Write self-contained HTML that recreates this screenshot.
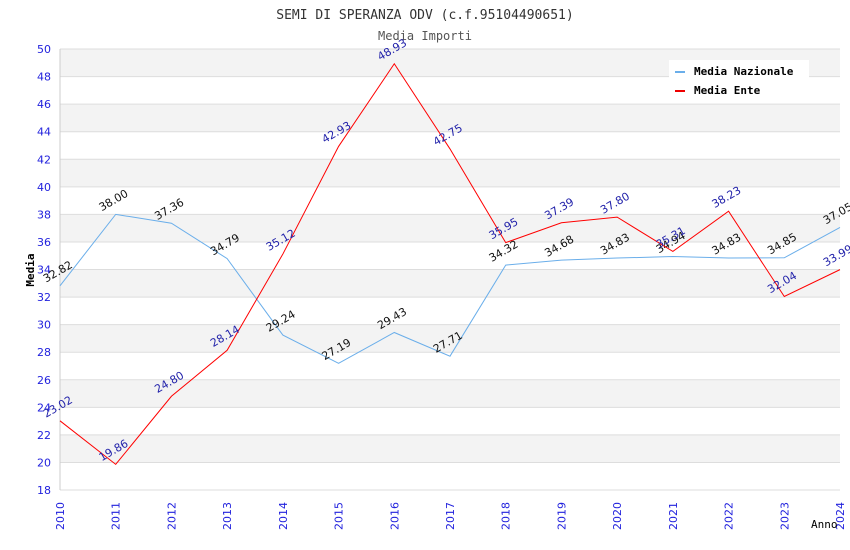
<!DOCTYPE html>
<html><head><meta charset="utf-8"><style>
body{margin:0;background:#fff;}
svg{display:block;font-family:"DejaVu Sans","Liberation Sans",sans-serif;}
</style></head><body>
<svg id="chart" width="850" height="550" xmlns="http://www.w3.org/2000/svg">
<text x="425" y="19" text-anchor="middle" font-family="DejaVu Sans Mono, Liberation Mono, monospace" font-size="13" fill="#333">SEMI DI SPERANZA ODV (c.f.95104490651)</text>
<text x="425" y="40" text-anchor="middle" font-family="DejaVu Sans Mono, Liberation Mono, monospace" font-size="12" fill="#555">Media Importi</text>
<g id="grid"></g><g id="axes"></g><g id="series"></g>
<g>
<rect x="669" y="60" width="140" height="42" fill="#fff"/>
<rect x="675" y="71" width="10" height="2" fill="#6aaeea"/>
<text x="694" y="75" font-family="DejaVu Sans Mono, Liberation Mono, monospace" font-size="11" font-weight="bold">Media Nazionale</text>
<rect x="675" y="90" width="10" height="2" fill="#e00"/>
<text x="694" y="94" font-family="DejaVu Sans Mono, Liberation Mono, monospace" font-size="11" font-weight="bold">Media Ente</text>
</g>
<text transform="translate(34,270) rotate(-90)" text-anchor="middle" font-family="DejaVu Sans Mono, Liberation Mono, monospace" font-size="11" font-weight="bold">Media</text>
<text x="811" y="528" font-family="DejaVu Sans Mono, Liberation Mono, monospace" font-size="11">Anno</text>
</svg>
<script>
const years=[2010,2011,2012,2013,2014,2015,2016,2017,2018,2019,2020,2021,2022,2023,2024];
const nazionale=[32.82,38.00,37.36,34.79,29.24,27.19,29.43,27.71,34.32,34.68,34.83,34.94,34.83,34.85,37.05];
const ente=[23.02,19.86,24.80,28.14,35.12,42.93,48.93,42.75,35.95,37.39,37.80,35.31,38.23,32.04,33.99];
const yTicks=[18,20,22,24,26,28,30,32,34,36,38,40,42,44,46,48,50];
const NS='http://www.w3.org/2000/svg';
const x0=60,x1=840,yTop=49,yBot=490,ymin=18,ymax=50;
const xs=i=>x0+(x1-x0)*i/(years.length-1);
const ys=v=>yBot-(v-ymin)/(ymax-ymin)*(yBot-yTop);
function mk(p,t,a){const e=document.createElementNS(NS,t);for(const k in a)e.setAttribute(k,a[k]);p.appendChild(e);return e;}
const grid=document.getElementById('grid'),axes=document.getElementById('axes'),ser=document.getElementById('series');
for(let i=0;i<yTicks.length-1;i++){const a=yTicks[i],b=yTicks[i+1];
 if(a%4===0){const r=mk(grid,'rect',{x:x0,y:ys(b),width:x1-x0,height:ys(a)-ys(b),fill:'#f3f3f3'});
 
 }}
yTicks.forEach(v=>{const l=mk(grid,'line',{x1:x0,x2:x1,y1:ys(v),y2:ys(v),stroke:'#ddd'});
 
 
 const t=mk(axes,'text',{x:51,y:ys(v)+4,'text-anchor':'end','font-size':11,fill:'#22d'});t.textContent=v;
 
 });
mk(axes,'line',{x1:x0,x2:x0,y1:yTop,y2:yBot,stroke:'#ccc'});
years.forEach((y,i)=>{const t=mk(axes,'text',{transform:`translate(${xs(i)+4},${530}) rotate(-90)`,'font-size':11,fill:'#22d'});t.textContent=y;
 
 });
function series(vals,color,lab,name){
 const pl=mk(ser,'polyline',{points:vals.map((v,i)=>xs(i)+','+ys(v)).join(' '),fill:'none',stroke:color,'stroke-width':1});
 
 
 vals.forEach((v,i)=>{const t=mk(ser,'text',{transform:`translate(${xs(i)-14},${ys(v)-3}) rotate(-30)`,'font-size':11,fill:lab});t.textContent=v.toFixed(2);
 
 });
}
series(nazionale,'#6aaeea','#111','media-nazionale');
series(ente,'#f00','#22a','media-ente');
</script>
</body></html>
